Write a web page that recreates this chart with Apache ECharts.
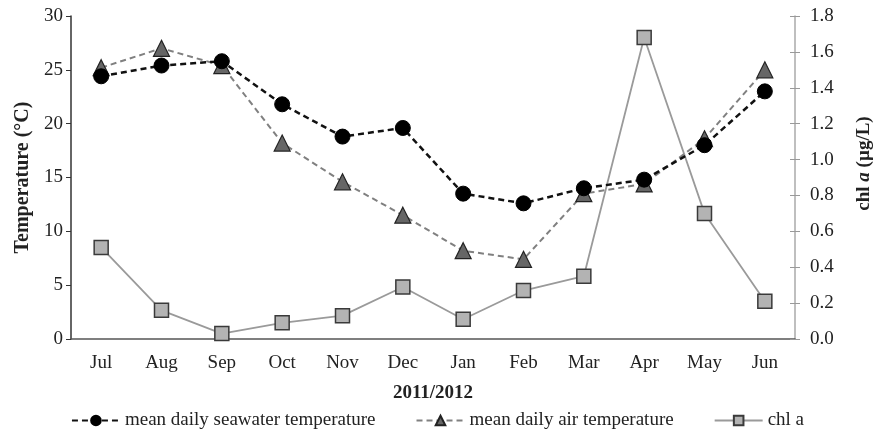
<!DOCTYPE html>
<html>
<head>
<meta charset="utf-8">
<script src="https://cdn.jsdelivr.net/npm/echarts@6/dist/echarts.min.js"></script>
<style>
  html, body { margin: 0; padding: 0; background: #fff; }
  #chart { width: 875px; height: 441px; }
</style>
</head>
<body>
<div id="chart"></div>
<script>
// Monthly observations, July 2011 – June 2012
const months = ['Jul', 'Aug', 'Sep', 'Oct', 'Nov', 'Dec', 'Jan', 'Feb', 'Mar', 'Apr', 'May', 'Jun'];
const seawaterTemp = [24.4, 25.4, 25.8, 21.8, 18.8, 19.6, 13.5, 12.6, 14.0, 14.8, 18.0, 23.0];
const airTemp = [25.2, 27.0, 25.4, 18.2, 14.6, 11.5, 8.2, 7.4, 13.5, 14.4, 18.6, 25.0];
const chlA = [0.51, 0.16, 0.03, 0.09, 0.13, 0.29, 0.11, 0.27, 0.35, 1.68, 0.70, 0.21];

const serif = 'Liberation Serif, Times New Roman, serif';
const ink = '#222';

const chart = echarts.init(document.getElementById('chart'));

chart.setOption({
  backgroundColor: '#fff',
  animation: false,
  textStyle: { fontFamily: serif, color: ink },
  grid: { left: 71, right: 80, top: 16, bottom: 102, containLabel: false, outerBoundsMode: 'none' },
  legend: {
    bottom: 6,
    left: 'center',
    itemGap: 40,
    itemWidth: 48,
    itemHeight: 12,
    textStyle: { fontFamily: serif, fontSize: 19, color: ink },
    data: ['mean daily seawater temperature', 'mean daily air temperature', 'chl a']
  },
  xAxis: {
    type: 'category',
    data: months,
    boundaryGap: true,
    name: '2011/2012',
    nameLocation: 'middle',
    nameGap: 45,
    nameTextStyle: { fontFamily: serif, fontSize: 19, fontWeight: 'bold', color: ink },
    axisLine: { lineStyle: { color: '#555', width: 1.5 } },
    axisTick: { show: false },
    axisLabel: { fontFamily: serif, fontSize: 19, color: ink, margin: 15 },
    splitLine: { show: false }
  },
  yAxis: [
    {
      type: 'value',
      min: 0, max: 30, interval: 5,
      position: 'left',
      name: 'Temperature (°C)',
      nameLocation: 'middle',
      nameGap: 37,
      nameRotate: 90,
      nameTextStyle: { fontFamily: serif, fontSize: 20, fontWeight: 'bold', color: ink },
      axisLine: { show: true, lineStyle: { color: '#333', width: 1.5 } },
      axisTick: { show: true, length: 5, lineStyle: { color: '#333' } },
      axisLabel: { fontFamily: serif, fontSize: 19, color: ink, margin: 8 },
      splitLine: { show: false }
    },
    {
      type: 'value',
      min: 0, max: 1.8, interval: 0.2,
      position: 'right',
      name: '{b|chl }{i|a}{b| (µg/L)}',
      nameLocation: 'middle',
      nameGap: 60,
      nameRotate: 90,
      nameTextStyle: {
        padding: [0, 0, 0, 28],
        rich: {
          b: { fontFamily: serif, fontSize: 19, fontWeight: 'bold', color: ink },
          i: { fontFamily: serif, fontSize: 19, fontWeight: 'bold', fontStyle: 'italic', color: ink }
        }
      },
      axisLine: { show: true, lineStyle: { color: '#aaa', width: 1.5 } },
      axisTick: { show: true, length: 5, lineStyle: { color: '#999' } },
      axisLabel: {
        fontFamily: serif, fontSize: 19, color: ink, margin: 15,
        formatter: v => v.toFixed(1)
      },
      splitLine: { show: false }
    },
    {
      // inner half of the right-hand ticks, so they cross the axis line
      type: 'value',
      min: 0, max: 1.8, interval: 0.2,
      position: 'right',
      axisLine: { show: false },
      axisTick: { show: true, inside: true, length: 5, lineStyle: { color: '#999' } },
      axisLabel: { show: false },
      splitLine: { show: false }
    }
  ],
  series: [
    {
      name: 'chl a',
      type: 'line',
      yAxisIndex: 1,
      data: chlA,
      symbol: 'rect',
      symbolSize: 14,
      z: 2,
      lineStyle: { color: '#9a9a9a', width: 1.8, type: 'solid' },
      itemStyle: { color: '#b3b3b3', borderColor: '#3a3a3a', borderWidth: 1.5 }
    },
    {
      name: 'mean daily air temperature',
      type: 'line',
      yAxisIndex: 0,
      data: airTemp,
      symbol: 'triangle',
      symbolSize: 16,
      z: 3,
      lineStyle: { color: '#808080', width: 2, type: [6, 4] },
      itemStyle: { color: '#666', borderColor: '#222', borderWidth: 1.2 }
    },
    {
      name: 'mean daily seawater temperature',
      type: 'line',
      yAxisIndex: 0,
      data: seawaterTemp,
      symbol: 'circle',
      symbolSize: 15,
      z: 4,
      lineStyle: { color: '#111', width: 2.5, type: [6, 4] },
      itemStyle: { color: '#000', borderColor: '#000', borderWidth: 1 }
    }
  ]
});
</script>
</body>
</html>
